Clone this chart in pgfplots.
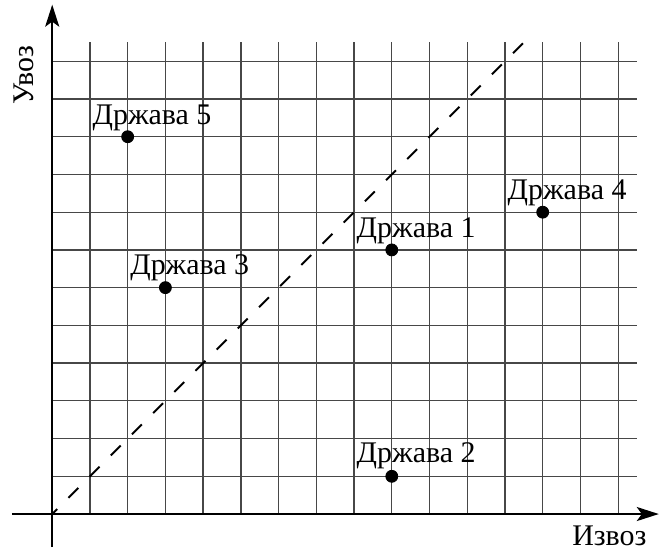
\documentclass[border=0pt]{standalone}
\usepackage{pgfplots}
\pgfplotsset{compat=1.18}
\usepackage{fontspec}
\setmainfont{Liberation Serif}
\usetikzlibrary{arrows.meta}
\begin{document}
\begin{tikzpicture}[lbl/.style={inner sep=0pt, font=\fontsize{15}{18}\selectfont}]
\begin{axis}[
    scale only axis,
    x=18.9pt, y=18.9pt,
    xmin=-1.384, xmax=16.077,
    ymin=-0.952, ymax=13.624,
    hide axis,
    clip=false,
]
\path (rel axis cs:0,0) rectangle (rel axis cs:1,1);
% grid
\pgfplotsinvokeforeach{1,...,15}{
    \draw[black!72, line width=0.65pt] (axis cs:#1,0) -- (axis cs:#1,12.5);
}
\pgfplotsinvokeforeach{1,...,12}{
    \draw[black!72, line width=0.65pt] (axis cs:0,#1) -- (axis cs:15.5,#1);
}
% axes
\draw[line width=1.2pt, -{Stealth[length=11pt,width=7pt,inset=2.5pt]}]
    (axis cs:-1.07,0) -- (axis cs:16.077,0);
\draw[line width=1.2pt, -{Stealth[length=11pt,width=7pt,inset=2.5pt]}]
    (axis cs:0,-0.88) -- (axis cs:0,13.5);
% diagonal
\addplot[black, line width=1pt, dash pattern=on 7pt off 8pt, dash phase=3.5pt, no marks]
    coordinates {(0,0) (12.5,12.5)};
% countries
\addplot[only marks, mark=*, mark size=3pt, black] coordinates {
    (9,7) (9,1) (3,6) (13,8) (2,10)
};
\node[anchor=base west, lbl] at (axis cs:8.06,7.34) {Држава 1};
\node[anchor=base west, lbl] at (axis cs:8.06,1.36) {Држава 2};
\node[anchor=base west, lbl] at (axis cs:2.06,6.34) {Држава 3};
\node[anchor=base west, lbl] at (axis cs:12.06,8.34) {Држава 4};
\node[anchor=base west, lbl] at (axis cs:1.06,10.32) {Држава 5};
% axis labels
\node[anchor=base east, lbl] at (axis cs:15.76,-0.84) {Извоз};
\node[anchor=base, rotate=90, lbl] at (axis cs:-0.49,11.64) {Увоз};
\end{axis}
\end{tikzpicture}
\end{document}
